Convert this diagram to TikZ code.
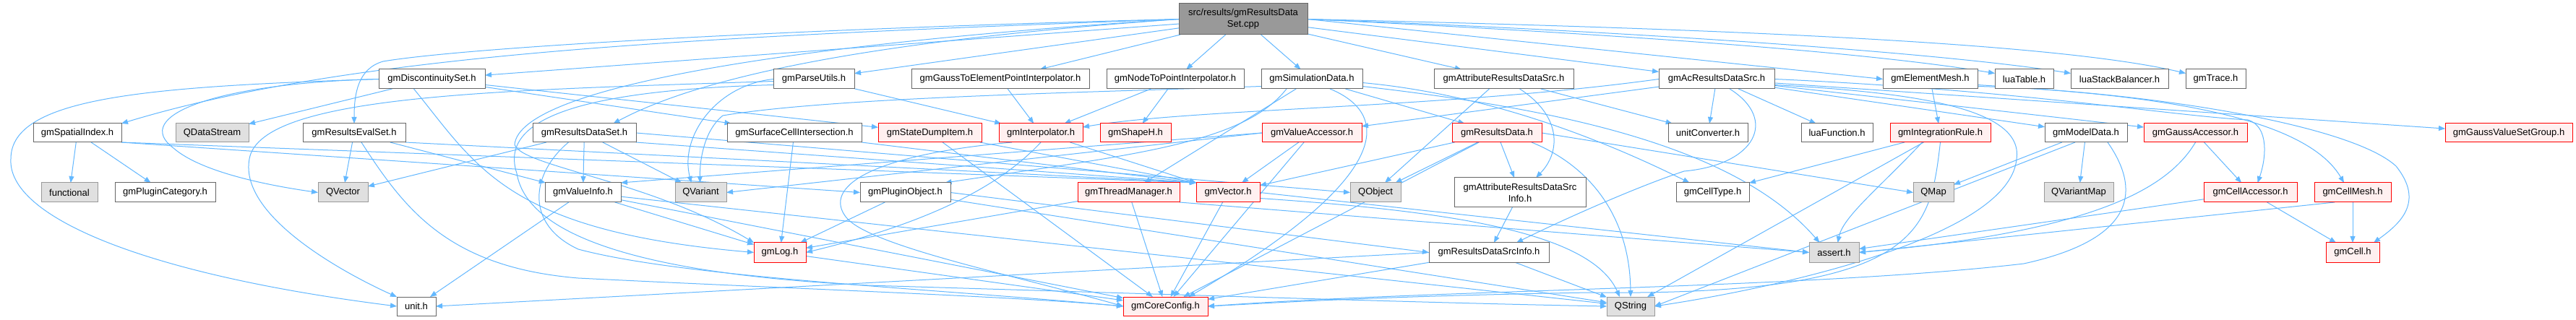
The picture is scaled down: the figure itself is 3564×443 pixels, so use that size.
\documentclass[tikz,border=0pt]{standalone}
\usepackage{fontspec}
\setmainfont{Liberation Sans}
\usetikzlibrary{arrows.meta}
\definecolor{edgec}{HTML}{63B8FF}
\definecolor{redfill}{HTML}{FFF0F0}
\definecolor{extfill}{HTML}{E0E0E0}
\definecolor{extdraw}{HTML}{999999}
\definecolor{wdraw}{HTML}{666666}
\definecolor{topfill}{HTML}{999999}
\pgfdeclarelayer{bg}
\pgfdeclarelayer{edges}
\pgfsetlayers{bg,edges,main}
\newcommand{\mkbox}[7]{\node[#2, minimum width={(#4-#3)*1pt}, minimum height={(#6-#5)*1pt}] (#1) at ({(#3+#4)/2},{(#5+#6)/2}) {#7};}
\begin{document}
\begin{tikzpicture}[x=1pt, y=-1pt,
  every node/.style={font=\fontsize{13pt}{16pt}\selectfont, inner sep=0pt, outer sep=0pt, text=black, align=center},
  wb/.style={draw=wdraw, fill=white, line width=1pt},
  rb/.style={draw=red, fill=redfill, line width=1pt},
  xb/.style={draw=extdraw, fill=extfill, line width=1pt},
  tb/.style={draw=wdraw, fill=topfill, line width=1pt},
  e/.style={draw=edgec, line width=1pt, -{Triangle[length=9pt,width=7pt]}}]
\useasboundingbox (0,0) rectangle (3564,443);
\begin{pgfonlayer}{bg}
\fill[white] (0,0) rectangle (3564,443);
\end{pgfonlayer}
% top
\mkbox{src}{tb}{1631}{1809}{5}{48}{src/results/gmResultsData\\Set.cpp}
% row 1
\mkbox{disc}{wb}{524}{671}{96}{123}{gmDiscontinuitySet.h}
\mkbox{parse}{wb}{1070}{1182}{96}{123}{gmParseUtils.h}
\mkbox{gtoe}{wb}{1261}{1507}{96}{123}{gmGaussToElementPointInterpolator.h}
\mkbox{ntop}{wb}{1531}{1721}{96}{123}{gmNodeToPointInterpolator.h}
\mkbox{sim}{wb}{1745}{1885}{96}{123}{gmSimulationData.h}
\mkbox{ards}{wb}{1984}{2177}{96}{123}{gmAttributeResultsDataSrc.h}
\mkbox{acrds}{wb}{2295}{2455}{96}{123}{gmAcResultsDataSrc.h}
\mkbox{emesh}{wb}{2605}{2736}{96}{123}{gmElementMesh.h}
\mkbox{luatab}{wb}{2760}{2841}{96}{123}{luaTable.h}
\mkbox{luasb}{wb}{2865}{3000}{96}{123}{luaStackBalancer.h}
\mkbox{trace}{wb}{3024}{3107}{96}{123}{gmTrace.h}
% row 2
\mkbox{spatial}{wb}{46}{168}{171}{197}{gmSpatialIndex.h}
\mkbox{qds}{xb}{243}{344}{171}{197}{QDataStream}
\mkbox{evalset}{wb}{419}{561}{171}{197}{gmResultsEvalSet.h}
\mkbox{rds}{wb}{737}{880}{171}{197}{gmResultsDataSet.h}
\mkbox{sci}{wb}{1006}{1192}{171}{197}{gmSurfaceCellIntersection.h}
\mkbox{sdi}{rb}{1215}{1358}{171}{197}{gmStateDumpItem.h}
\mkbox{interp}{rb}{1382}{1498}{171}{197}{gmInterpolator.h}
\mkbox{shape}{rb}{1522}{1620}{171}{197}{gmShapeH.h}
\mkbox{vacc}{rb}{1746}{1884}{171}{197}{gmValueAccessor.h}
\mkbox{rdata}{rb}{2009}{2133}{171}{197}{gmResultsData.h}
\mkbox{uconv}{wb}{2308}{2418}{171}{197}{unitConverter.h}
\mkbox{luafn}{wb}{2492}{2591}{171}{197}{luaFunction.h}
\mkbox{irule}{rb}{2615}{2754}{171}{197}{gmIntegrationRule.h}
\mkbox{mdata}{wb}{2829}{2943}{171}{197}{gmModelData.h}
\mkbox{gacc}{rb}{2966}{3109}{171}{197}{gmGaussAccessor.h}
\mkbox{gvsg}{rb}{3383}{3559}{171}{197}{gmGaussValueSetGroup.h}
% row 3
\mkbox{func}{xb}{57}{135}{253}{280}{functional}
\mkbox{plugcat}{wb}{159}{298}{253}{280}{gmPluginCategory.h}
\mkbox{qvec}{xb}{440}{509}{253}{280}{QVector}
\mkbox{vinfo}{wb}{754}{859}{253}{280}{gmValueInfo.h}
\mkbox{qvar}{xb}{934}{1005}{253}{280}{QVariant}
\mkbox{plugobj}{wb}{1190}{1315}{253}{280}{gmPluginObject.h}
\mkbox{tm}{rb}{1491}{1632}{253}{280}{gmThreadManager.h}
\mkbox{vec}{rb}{1655}{1743}{253}{280}{gmVector.h}
\mkbox{qobj}{xb}{1868}{1938}{253}{280}{QObject}
\mkbox{ardsi}{wb}{2012}{2194}{246}{287}{gmAttributeResultsDataSrc\\Info.h}
\mkbox{ctype}{wb}{2319}{2420}{253}{280}{gmCellType.h}
\mkbox{qmap}{xb}{2647}{2703}{253}{280}{QMap}
\mkbox{qvmap}{xb}{2828}{2924}{253}{280}{QVariantMap}
\mkbox{cacc}{rb}{3049}{3178}{253}{280}{gmCellAccessor.h}
\mkbox{cmesh}{rb}{3202}{3308}{253}{280}{gmCellMesh.h}
% row 4
\mkbox{log}{rb}{1043}{1115}{336}{363}{gmLog.h}
\mkbox{rdsi}{wb}{1977}{2143}{336}{363}{gmResultsDataSrcInfo.h}
\mkbox{assert}{xb}{2503}{2572}{336}{363}{assert.h}
\mkbox{cell}{rb}{3218}{3292}{336}{363}{gmCell.h}
% row 5
\mkbox{unit}{wb}{549}{603}{411}{437}{unit.h}
\mkbox{cc}{rb}{1554}{1671}{411}{437}{gmCoreConfig.h}
\mkbox{qstr}{xb}{2223}{2289}{411}{437}{QString}

\begin{pgfonlayer}{edges}
% from the source file
\draw[e] (src) -- (disc);
\draw[e] (src) -- (parse);
\draw[e] (src) -- (gtoe);
\draw[e] (src) -- (ntop);
\draw[e] (src) -- (sim);
\draw[e] (src) -- (ards);
\draw[e] (src) -- (acrds);
\draw[e] (src.east) -- (emesh.west);
\draw[e] (src.east) .. controls (2300,50) and (2600,75) .. ([yshift=8pt]luatab.west);
\draw[e] (src.east) .. controls (2300,45) and (2700,75) .. ([yshift=8pt]luasb.west);
\draw[e] (src.east) .. controls (2400,40) and (2850,60) .. ([yshift=8pt]trace.west);
\draw[e] (src.west) .. controls (1000,50) and (500,70) .. (spatial.north east);
\draw[e] (src.west) .. controls (1100,40) and (650,65) .. (530,85) .. controls (495,95) and (490,130) .. (evalset.north);
\draw[e] (src.west) .. controls (1300,50) and (1000,90) .. ([xshift=40pt]rds.north);
\draw[e] (src.west) .. controls (1100,60) and (720,120) .. (712,200) .. controls (720,230) and (900,250) .. (log.north west);
% gmDiscontinuitySet.h
\draw[e] (disc) -- (qds);
\draw[e] (disc.west) .. controls (200,120) and (15,135) .. (15,220) .. controls (10,300) and (200,380) .. (unit.west);
\draw[e] (disc.west) .. controls (300,115) and (180,160) .. (240,205) .. controls (280,240) and (380,258) .. (qvec.west);
\draw[e] (disc) -- (sci);
\draw[e] (disc) -- (sdi);
\draw[e] ([xshift=-25pt]disc.south) .. controls (660,230) and (700,320) .. (log.west);
% gmParseUtils.h
\draw[e] (parse) -- (interp);
\draw[e] ([yshift=-3pt]parse.west) .. controls (700,125) and (360,130) .. (345,220) .. controls (330,300) and (480,380) .. (unit.north west);
\draw[e] (parse.west) .. controls (990,118) and (940,190) .. ([xshift=-13pt]qvar.north);
\draw[e] ([yshift=-8pt]parse.west) .. controls (800,125) and (690,165) .. (715,240) .. controls (730,330) and (900,380) .. (1200,395) .. controls (1700,410) and (2000,420) .. (qstr.west);
% interpolators
\draw[e] (gtoe) -- (interp);
\draw[e] (ntop) -- (interp);
\draw[e] (ntop) -- (shape);
% gmSimulationData.h
\draw[e] ([yshift=-10pt]sim.west) .. controls (1500,128) and (1150,135) .. (1000,160) .. controls (975,180) and (968,220) .. ([xshift=-1pt]qvar.north);
\draw[e] ([xshift=-35pt]sim.south) .. controls (1720,200) and (1560,215) .. ([xshift=55pt]plugobj.north);
\draw[e] (sim) -- (tm);
\draw[e] (sim) -- (rdata);
\draw[e] ([xshift=25pt]sim.south) .. controls (1930,160) and (1920,250) .. ([xshift=32pt]cc.north);
\draw[e] ([yshift=-5pt]sim.east) .. controls (2000,125) and (2150,160) .. ([xshift=-32pt]ctype.north);
\draw[e] ([yshift=-10pt]sim.east) .. controls (2150,150) and (2400,200) .. ([xshift=-20pt]assert.north);
% gmAttributeResultsDataSrc.h
\draw[e] ([xshift=-20pt]ards.south) -- ([xshift=13pt]qobj.north);
\draw[e] (ards) -- (uconv);
\draw[e] ([xshift=22pt]ards.south) .. controls (2160,160) and (2160,210) .. ([xshift=22pt]ardsi.north);
% gmAcResultsDataSrc.h
\draw[e] (acrds) -- (vacc);
\draw[e] (acrds.west) .. controls (2000,150) and (1650,150) .. ([yshift=8pt]interp.east);
\draw[e] (acrds) -- (uconv);
\draw[e] (acrds) -- (luafn);
\draw[e] ([xshift=18pt]acrds.south) .. controls (2460,165) and (2430,228) .. (2330,237) .. controls (2260,260) and (2150,310) .. ([xshift=38pt]rdsi.north);
\draw[e] (acrds) -- (mdata);
\draw[e] (acrds) -- (gacc);
\draw[e] (acrds) -- (gvsg);
\draw[e] (acrds.east) .. controls (2800,125) and (3000,160) .. (3110,166) .. controls (3140,175) and (3135,220) .. ([xshift=10pt]cacc.north);
\draw[e] ([yshift=-8pt]acrds.east) .. controls (2650,128) and (2800,150) .. (2790,220) .. controls (2780,330) and (2450,400) .. (qstr.east);
% gmElementMesh.h
\draw[e] (emesh) -- (irule);
\draw[e] ([yshift=-8pt]emesh.east) .. controls (2900,128) and (3180,145) .. ([xshift=-12pt]cmesh.north);
\draw[e] ([yshift=-10pt]emesh.east) .. controls (2950,125) and (3250,170) .. (3315,230) .. controls (3355,280) and (3320,310) .. ([xshift=-8pt]cell.north east);
% gmSpatialIndex.h
\draw[e] (spatial) -- (func);
\draw[e] (spatial) -- (plugcat);
\draw[e] (spatial.south east) -- (plugobj.west);
\draw[e] (spatial.south east) -- (vec.north west);
% gmResultsEvalSet.h
\draw[e] (evalset) -- (qvec);
\draw[e] (evalset) -- (vinfo);
\draw[e] (evalset.south east) -- (vec.north west);
\draw[e] ([xshift=10pt]evalset.south) .. controls (560,290) and (620,370) .. (800,385) .. controls (1100,400) and (1400,410) .. (cc.west);
% gmResultsDataSet.h
\draw[e] (rds) -- (qvec);
\draw[e] (rds) -- (vinfo);
\draw[e] (rds) -- (qvar);
\draw[e] (rds.south east) -- (vec.north west);
\draw[e] (rds.east) -- (qobj.west);
\draw[e] ([xshift=-22pt]rds.south) .. controls (735,240) and (725,310) .. (800,345) .. controls (950,385) and (1300,400) .. (cc.west);
% surface cell, state dump, interpolator
\draw[e] (sci) -- (log);
\draw[e] (sci.south east) -- (vec.north west);
\draw[e] (sdi) -- (vec.north west);
\draw[e] (sdi) -- (cc);
\draw[e] (interp) -- (vec.north west);
\draw[e] (interp.south) .. controls (1400,240) and (1320,300) .. (log.east);
\draw[e] ([xshift=-40pt]interp.south) .. controls (1200,215) and (1140,260) .. (1170,300) .. controls (1200,340) and (1400,380) .. (cc.west);
% gmValueAccessor.h
\draw[e] (vacc) -- (vec);
\draw[e] (vacc) -- (cc);
\draw[e] (vacc.west) -- (qvar.east);
\draw[e] (vacc.west) -- (vinfo.north east);
% gmResultsData.h
\draw[e] (rdata) -- (vec);
\draw[e] (rdata) -- (qobj);
\draw[e] (rdata) -- (cc);
\draw[e] (rdata) -- (ardsi);
\draw[e] ([xshift=48pt]rdata.south) .. controls (2200,230) and (2255,300) .. (qstr.north);
\draw[e] (rdata.east) -- (qmap.west);
% gmIntegrationRule.h
\draw[e] (irule) -- (ctype);
\draw[e] ([xshift=-25pt]irule.south) .. controls (2600,260) and (2550,300) .. ([xshift=5pt]assert.north);
\draw[e] (irule) -- (qstr);
\draw[e] (irule.south) .. controls (2670,320) and (2660,410) .. (2200,405) .. controls (1900,410) and (1750,420) .. (cc.east);
% gmModelData.h
\draw[e] (mdata) -- (qmap);
\draw[e] (mdata) -- (qvmap);
\draw[e] ([xshift=-15pt]mdata.south) -- (qstr.east);
\draw[e] ([xshift=30pt]mdata.south) .. controls (2960,260) and (2960,330) .. (2800,365) .. controls (2500,400) and (2000,400) .. (cc.east);
% accessors and meshes
\draw[e] (gacc) -- (cacc);
\draw[e] (gacc.south) .. controls (3000,260) and (2900,320) .. (assert.east);
\draw[e] (cacc) -- (cell);
\draw[e] (cacc) -- (assert);
\draw[e] (cmesh) -- (cell);
\draw[e] ([xshift=-25pt]cmesh.south) -- (assert.east);
% lower levels
\draw[e] (ardsi) -- (rdsi);
\draw[e] (rdsi.west) -- (unit.east);
\draw[e] (rdsi) -- (cc);
\draw[e] (rdsi) -- (qstr);
\draw[e] (vinfo) -- (unit);
\draw[e] (vinfo) -- (log);
\draw[e] (vinfo) -- (cc);
\draw[e] (vinfo) -- (qstr);
\draw[e] (log) -- (cc);
\draw[e] (plugobj) -- (log);
\draw[e] (plugobj) -- (qstr);
\draw[e] (plugobj.east) -- (rdsi.west);
\draw[e] (tm) -- (log);
\draw[e] (tm) -- (cc);
\draw[e] (tm.south east) -- (assert.west);
\draw[e] (vec) -- (cc);
\draw[e] ([yshift=-8pt]vec.east) .. controls (2000,292) and (2200,320) .. ([xshift=-15pt]qstr.north);
\draw[e] (vec.east) -- (assert.west);
\end{pgfonlayer}
\end{tikzpicture}
\end{document}
